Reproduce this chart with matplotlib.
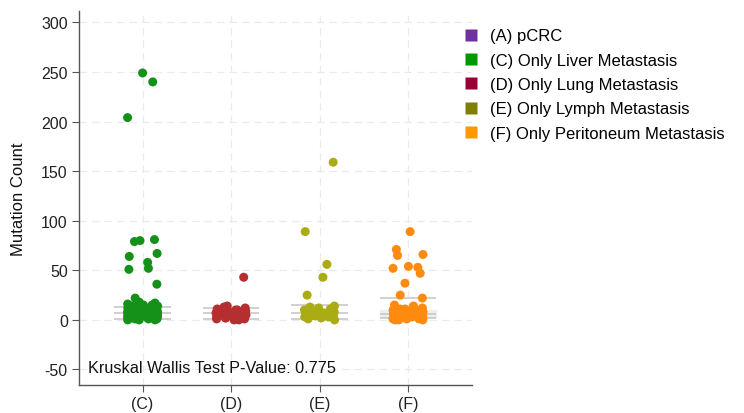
import numpy as np
import matplotlib
matplotlib.use("Agg")
import matplotlib.pyplot as plt
from matplotlib.lines import Line2D

plt.rcParams['font.family'] = ['Liberation Sans', 'DejaVu Sans']
plt.rcParams['axes.unicode_minus'] = False

# groups on the x axis
groups = ['(C)', '(D)', '(E)', '(F)']

# mutation counts per group
liver = [249, 240, 204, 81, 80, 79, 67, 64, 58, 52, 51, 36, 22, 18, 17, 16, 15, 15,
         14, 14, 13, 13, 12, 12, 12, 11, 11, 11, 10, 10, 10, 9, 9, 9, 9, 8, 8, 8, 8,
         7, 7, 7, 7, 6, 6, 6, 6, 6, 5, 5, 5, 5, 4, 4, 4, 4, 3, 3, 3, 3, 2, 2, 2, 2,
         1, 1, 1, 1, 0, 0, 0]
lung = [43, 14, 13, 12, 11, 10, 10, 9, 9, 8, 8, 7, 7, 7, 6, 6, 5, 5, 4, 4, 3, 3, 2,
        2, 1, 1, 0, 0]
lymph = [159, 89, 56, 43, 25, 14, 13, 12, 11, 10, 9, 9, 8, 8, 7, 7, 6, 6, 5, 5, 4,
         4, 3, 3, 2, 1, 0]
perit = [89, 71, 66, 65, 54, 53, 52, 47, 37, 25, 22, 15, 14, 13, 12, 12, 11, 11, 10,
         10, 9, 9, 8, 8, 7, 7, 6, 6, 5, 5, 5, 4, 4, 4, 3, 3, 3, 2, 2, 2, 1, 1, 1, 0,
         0, 0]

# summary lines drawn behind the points
box_low = [1, 1, 1, 1.5]
box_mid = [7, 7, 7, 6]
box_high = [13, 12.5, 15, 22]

legend_labels = ['(A) pCRC', '(C) Only Liver Metastasis', '(D) Only Lung Metastasis',
                 '(E) Only Lymph Metastasis', '(F) Only Peritoneum Metastasis']
legend_colors = ['#7030A0', '#009A00', '#990033', '#808000', '#FF9900']
point_colors = ['#15911A', '#B52E30', '#ABAB14', '#FF8A10']

pval = 0.775

fig = plt.figure(figsize=(7.44, 4.14), dpi=100)
ax = fig.add_axes([0.106, 0.068, 0.528, 0.903])

data = [liver, lung, lymph, perit]
xs = np.arange(1, len(groups) + 1)

for i, (x, vals) in enumerate(zip(xs, data)):
    # boxplot-like light lines
    for v in (box_low[i], box_mid[i], box_high[i]):
        ax.hlines(v, x - 0.32, x + 0.32, color='#c8c8c8', lw=1.2, zorder=1)
    if groups[i] == '(F)':
        ax.fill_between([x - 0.32, x + 0.32], 3, 10, color='#eeeeee', zorder=0.5)
    # deterministic jitter
    n = len(vals)
    jit = 0.17 * np.sin(np.arange(n) * 2.399 + i)
    ax.scatter(x + jit, vals, s=42, color=point_colors[i], edgecolors='none', zorder=3)

ax.set_xlim(0.28, 4.72)
ax.set_ylim(-65.5, 311.5)
ax.set_xticks(xs)
ax.set_xticklabels(groups)
ax.set_yticks(np.arange(-50, 301, 50))
ax.grid(True, color='#ebebeb', linestyle=(0, (6, 4)), lw=0.9)
ax.set_axisbelow(True)

for s in ['top', 'right']:
    ax.spines[s].set_visible(False)
for s in ['left', 'bottom']:
    ax.spines[s].set_color('#555555')
    ax.spines[s].set_linewidth(1.0)
ax.tick_params(axis='both', colors='#555555', length=5, pad=3, labelsize=11.5,
               labelcolor='#222222')
ax.set_ylabel('Mutation Count', fontsize=12, color='#111111')
ax.yaxis.set_label_coords(-0.135, 0.5)

ax.text(0.38, -48, 'Kruskal Wallis Test P-Value: %s' % pval, fontsize=11.7,
        color='#111111', va='center', ha='left')

handles = [Line2D([], [], marker='s', linestyle='none', markersize=8,
                  markerfacecolor=c, markeredgecolor='none') for c in legend_colors]
fig.legend(handles, legend_labels, loc='upper left', bbox_to_anchor=(0.6, 0.965),
           frameon=False, fontsize=12, labelspacing=0.56, handletextpad=0.5,
           handlelength=1.2)

fig.savefig('out.png', dpi=100)
